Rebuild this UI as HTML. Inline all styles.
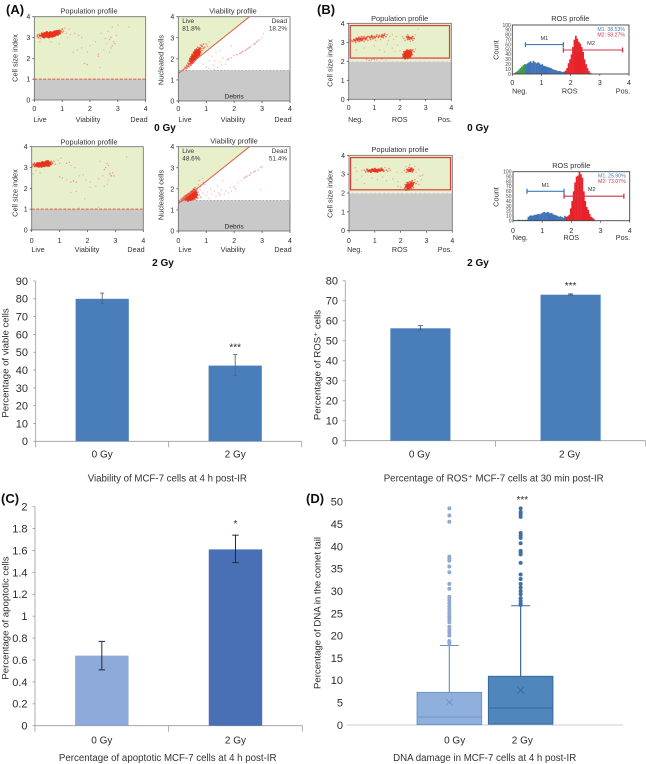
<!DOCTYPE html>
<html lang="en">
<head>
<meta charset="utf-8">
<title>MCF-7 post-IR figure</title>
<style>
html,body{margin:0;padding:0;background:#fff;width:646px;height:764px;overflow:hidden}
svg{display:block;font-family:"Liberation Sans",sans-serif}
</style>
</head>
<body>
<svg id="fig" xmlns="http://www.w3.org/2000/svg" width="646" height="764" viewBox="0 0 646 764">
<defs><filter id="soft" x="-2%" y="-2%" width="104%" height="104%"><feGaussianBlur stdDeviation="0.35"/></filter></defs>
<g id="root" filter="url(#soft)"></g>
</svg>
<script>
// ---------- scatter data ----------
const popA0=[[.1,3.05],[.12,3.12],[.15,3],[.18,3.15],[.2,3.08],[.22,2.95],[.25,3.1],[.27,3.2],[.3,3.05],[.3,3.15],[.32,3.1],[.35,3],[.35,3.12],[.37,3.2],[.4,3.05],[.4,3.12],[.42,3.18],[.43,3.08],[.45,3.15],[.45,3.25],[.47,3.05],[.48,3.12],[.5,3.1],[.5,3.18],[.52,3.02],[.53,3.14],[.55,3.2],[.55,3.08],[.57,3.15],[.58,3.25],[.6,3.1],[.6,3.18],[.62,3.12],[.63,3.22],[.65,3.05],[.65,3.16],[.67,3.2],[.68,3.1],[.7,3.15],[.7,3.25],[.72,3.18],[.73,3.28],[.75,3.12],[.75,3.2],[.77,3.25],[.78,3.15],[.8,3.2],[.8,3.3],[.82,3.22],[.85,3.15],[.85,3.3],[.88,3.25],[.9,3.35],[.92,3.2],[.95,3.3],[1,3.25],[1,3.4],[1.05,3.3],[1.1,3.45],[1.15,3.2],[1.3,3.15],[1.45,3.2],[1.6,3.1],[1.7,3],[1.55,2.4],[1.4,2.3],[1.7,2.5],[1.9,2.3],[1.8,1.75],[1.9,1.7],[2.3,2.2],[2.35,1.55],[2.3,2.1],[2.5,2.4],[2.6,2.7],[2.7,2.9],[2.75,3],[2.8,2.6],[2.85,2.8],[2.9,2.7],[2.75,2.5],[2.65,3.3],[2.8,3.5],[3,3.6],[3.4,3.5],[2.4,3.2],[2.2,2.8],[2,2.6],[.9,2.7],[.6,2.8],[.2,2.8],[2.55,2.95],[2.95,3.1],[2.7,2.3],[1.2,3],[1.25,3.4],
[.38,3.09],[.41,3.15],[.44,3.11],[.46,3.19],[.49,3.07],[.51,3.14],[.54,3.11],[.56,3.17],[.59,3.13],[.61,3.21],[.64,3.14],[.66,3.1],[.69,3.18],[.71,3.12],[.74,3.16],[.76,3.23],[.79,3.19],[.81,3.16],[.83,3.26],[.36,3.15],[.52,3.2],[.58,3.06],[.62,3.17],[.68,3.22],[.72,3.09],[.78,3.27],[.86,3.21],[.33,3.06],[.47,3.16],[.56,3.12]];
const vibA0=[[.2,1.5],[.25,1.6],[.3,1.55],[.3,1.7],[.35,1.65],[.35,1.8],[.4,1.6],[.4,1.75],[.4,1.9],[.42,2],[.45,1.7],[.45,1.85],[.45,2],[.48,2.1],[.5,1.8],[.5,1.95],[.5,2.05],[.5,2.2],[.53,1.9],[.55,2],[.55,2.15],[.55,2.3],[.58,2.05],[.6,1.95],[.6,2.1],[.6,2.25],[.6,2.4],[.63,2.2],[.65,2.05],[.65,2.3],[.65,2.45],[.68,2.15],[.7,2.25],[.7,2.4],[.7,2.55],[.73,2.3],[.75,2.2],[.75,2.45],[.78,2.35],[.8,2.5],[.8,2.65],[.85,2.4],[.85,2.6],[.9,2.5],[.9,2.7],[.95,2.55],[1,2.7],[1.05,2.6],[1.1,2.8],[.3,1.45],[.9,1.75],[1,1.6],[1.1,1.9],[1.1,1.55],[1.2,2.1],[1.25,1.7],[1.3,1.9],[1.35,2.3],[1.4,1.6],[1.5,1.85],[1.5,2.4],[1.55,1.7],[1.6,2.05],[1.7,1.75],[1.75,1.95],[1.8,2],[1.9,2.6],[1.9,2.05],[2,2.15],[2.1,2.2],[2.2,2.25],[2.25,2.3],[2.3,2.35],[2.4,2.4],[2.45,2.45],[2.5,2.5],[2.55,2.55],[2.6,2.6],[2.7,2.7],[2.75,2.72],[2.8,2.8],[2.85,2.85],[2.9,2.9],[3,3],[3.05,3.2],[1.3,1.5],
[.44,1.92],[.47,1.78],[.49,1.98],[.52,2.1],[.54,1.85],[.56,2.08],[.57,1.96],[.59,2.18],[.61,2.02],[.62,2.32],[.64,2.12],[.66,2.24],[.67,2.38],[.69,2.08],[.71,2.32],[.72,2.18],[.74,2.38],[.76,2.52],[.77,2.28],[.51,1.88],[.58,2.28],[.63,2.14],[.68,2.28],[.53,2.05]];
const popA2=[[.02,3.05],[.05,3.15],[.08,3.1],[.1,3.2],[.12,3.05],[.15,3.12],[.18,3.15],[.2,3.08],[.2,3.2],[.22,3.12],[.25,3.05],[.25,3.15],[.27,3.2],[.3,3.1],[.3,3.18],[.32,3.14],[.35,3.05],[.35,3.2],[.37,3.12],[.38,3.25],[.4,3.1],[.4,3.18],[.42,3.14],[.44,3.22],[.45,3.08],[.47,3.16],[.48,3.24],[.5,3.12],[.5,3.2],[.52,3.28],[.54,3.15],[.55,3.22],[.57,3.1],[.58,3.3],[.6,3.18],[.6,3.25],[.62,3.1],[.65,3.2],[.68,3.15],[.7,3.28],[.75,3.2],[.8,3.3],[.85,3.15],[.95,3.35],[1,3.2],[1.05,3.45],[.15,2.85],[.3,2.75],[.05,2.7],[1.25,3.2],[1.35,3.25],[1.4,3.1],[1.55,3],[1,2.55],[1.1,2.5],[1.25,2.4],[1.4,2.3],[1.5,2.35],[1.6,2.3],[1.7,2.6],[1.85,2.65],[1.95,2.4],[2.1,2.3],[2.3,2.1],[2.4,2.45],[2.45,3.3],[2.55,2.6],[2.6,2.9],[2.65,3],[2.7,3.2],[2.75,3.1],[2.8,2.7],[2.85,2.6],[2.9,2.75],[2.75,2.4],[2.95,2.6],[2.7,2.2],[3.4,3.5],[1.4,1.8],[1.6,1.85],[1.9,1.5],[1.7,1.05],[2.4,1.1],[2.1,2.05],[2.6,2.1],
[.24,3.11],[.28,3.14],[.31,3.12],[.33,3.17],[.36,3.1],[.39,3.15],[.41,3.21],[.43,3.11],[.46,3.13],[.49,3.17],[.51,3.23],[.53,3.11],[.56,3.18],[.59,3.14],[.61,3.21],[.63,3.16],[.34,3.14],[.44,3.17],[.52,3.16],[.57,3.24]];
const vibA2=[[.05,1.4],[.1,1.5],[.12,1.42],[.15,1.55],[.18,1.48],[.2,1.6],[.22,1.52],[.25,1.45],[.25,1.65],[.28,1.55],[.3,1.5],[.3,1.7],[.32,1.6],[.35,1.45],[.35,1.55],[.35,1.75],[.38,1.65],[.4,1.5],[.4,1.6],[.4,1.8],[.42,1.7],[.45,1.48],[.45,1.58],[.45,1.85],[.48,1.75],[.5,1.52],[.5,1.65],[.5,1.9],[.53,1.8],[.55,1.55],[.55,1.7],[.55,1.98],[.58,1.85],[.6,1.5],[.6,1.75],[.6,2.05],[.63,1.9],[.65,1.6],[.65,1.8],[.68,2],[.7,1.55],[.7,1.85],[.72,2.2],[.75,1.7],[.75,2.4],[.78,1.95],[.8,1.6],[.8,2.1],[.85,2.5],[.88,1.8],[.9,2.3],[.95,2.2],[1,1.7],[1.05,1.85],[1.1,1.55],[1.15,2],[1.2,1.75],[1.3,1.9],[1.35,1.65],[1.4,2.15],[1.45,1.8],[1.5,1.7],[1.55,1.95],[1.6,2.4],[1.65,1.75],[1.7,1.9],[1.8,1.8],[1.85,2.05],[1.9,1.9],[2,2.1],[2.05,2],[2.15,2.3],[2.25,2.4],[2.35,2.5],[2.4,2.55],[2.45,2.6],[2.55,2.65],[2.6,2.75],[2.7,2.8],[2.75,2.85],[2.85,2.9],[2.95,3],[3,3.05],[2.95,1.95],
[.33,1.57],[.37,1.62],[.41,1.55],[.43,1.66],[.46,1.63],[.47,1.72],[.49,1.58],[.52,1.7],[.53,1.62],[.56,1.76],[.57,1.6],[.59,1.68],[.61,1.82],[.62,1.65],[.64,1.72],[.38,1.52],[.43,1.5],[.52,1.85],[.58,1.95],[.67,1.72]];
const popB0=[[.05,3.05],[.1,3.1],[.15,3.05],[.2,3.15],[.25,3.1],[.28,3],[.3,3.2],[.35,3.1],[.4,3.25],[.42,3.05],[.45,3.15],[.5,3.3],[.5,3.1],[.55,3.2],[.6,3.05],[.6,3.3],[.65,3.15],[.7,3.25],[.75,3.1],[.8,3.3],[.85,3.15],[.9,3.35],[.95,3.2],[1,3.3],[1.05,3.1],[1.1,3.4],[1.15,3.25],[1.2,3.35],[1.25,3.15],[1.3,3.4],[1.35,3.25],[1.4,3.45],[1.45,3.3],[1.5,3.4],[1.55,3.1],[1.6,3.3],[1.7,3.4],[1.75,3.15],[1.85,3.3],[1.5,2.9],[1.7,2.7],[1.9,2.85],[.3,2.6],[.6,2.7],[1,2.8],[1.2,2.6],[1.4,2.5],[1.8,2.5],[2,2.55],[2.1,3.3],[2.15,3.2],[2.2,3.1],[2.25,3.3],[2.3,3.15],[2.3,3.4],[2.35,3.25],[2.4,3.05],[2.45,3.2],[2.5,3.1],[2.5,3.3],[2.55,3.2],[2.6,3.4],[2.7,3.7],[2.1,2.2],[2.12,2.35],[2.15,2.5],[2.15,2.25],[2.18,2.4],[2.2,2.15],[2.2,2.3],[2.22,2.5],[2.25,2.25],[2.25,2.4],[2.28,2.6],[2.3,2.3],[2.3,2.15],[2.3,2.45],[2.33,2.55],[2.35,2.35],[2.38,2.5],[2.4,2.25],[2.4,2.6],[2.42,2.4],[2.45,2.55],[2.48,2.35],[2.5,2.6],[2.55,2.5],[2.6,2.65],[.8,2.05],[.9,2.08],[1,2.1],[1.1,2.07],[1.3,2.1],[.7,2.1],[1.45,2.06],
[.22,3.1],[.33,3.14],[.38,3.18],[.47,3.2],[.53,3.13],[.62,3.22],[.68,3.18],[.73,3.3],[.83,3.24],[.88,3.28],[.93,3.28],[1.03,3.24],[1.08,3.32],[1.18,3.3],[1.28,3.3],[1.33,3.35],[1.38,3.36],[2.17,2.28],[2.21,2.4],[2.24,2.32],[2.27,2.42],[2.29,2.24],[2.31,2.38],[2.34,2.48],[2.36,2.25],[2.39,2.4],[2.41,2.32],[2.44,2.46],[2.26,2.52],[2.22,2.22],[2.37,3.18],[2.42,3.24],[2.47,3.28],[2.28,3.24],[2.32,3.3]];
const popB2=[[.25,3.35],[.3,3.15],[.5,3.2],[.6,3.2],[.65,3.12],[.7,3.25],[.75,3.15],[.8,3.2],[.85,3.12],[.9,3.25],[.95,3.18],[1,3.15],[1,3.28],[1.05,3.2],[1.1,3.12],[1.15,3.25],[1.2,3.18],[1.25,3.3],[1.3,3.2],[1.35,3.15],[1.4,3.35],[1.45,3.22],[1.5,3.15],[1.55,3.3],[1.6,3.2],[.3,2.7],[.5,2.9],[.6,2.5],[.9,2.8],[1.1,2.7],[1.3,2.85],[1.45,2.65],[1.7,2.75],[1.85,3.1],[1.9,2.6],[2.05,3.1],[2.15,3.2],[2.2,3.4],[2.22,3.1],[2.25,3.25],[2.3,3.15],[2.32,3.35],[2.35,3.5],[2.38,3.2],[2.4,3.3],[2.45,3.12],[2.5,3.25],[2.55,3.4],[2.6,3.1],[2.7,3.25],[2.15,2.25],[2.18,2.45],[2.2,2.15],[2.22,2.35],[2.25,2.55],[2.28,2.25],[2.3,2.45],[2.32,2.2],[2.35,2.6],[2.38,2.35],[2.4,2.5],[2.42,2.25],[2.45,2.65],[2.48,2.45],[2.5,2.3],[2.52,2.55],[2.55,2.7],[2.6,2.5],[2.65,2.6],[2.7,2.45],[2.75,2.9],[2.8,2.7],[2.85,2.95],[1.9,2.35],[2,2.3],
[.72,3.2],[.78,3.18],[.83,3.2],[.88,3.18],[.93,3.22],[.98,3.2],[1.03,3.16],[1.08,3.22],[1.13,3.18],[1.18,3.22],[1.23,3.2],[1.28,3.24],[1.33,3.2],[2.2,2.3],[2.24,2.42],[2.27,2.32],[2.29,2.52],[2.31,2.36],[2.34,2.42],[2.36,2.28],[2.39,2.44],[2.41,2.56],[2.44,2.38],[2.47,2.52],[2.26,2.2],[2.33,3.22],[2.36,3.16],[2.41,3.22],[2.44,3.3],[2.47,3.2],[2.28,3.2]];
// ---------- histogram data: counts per ROS bin ----------
const rosBins0=[1,2,4,6,9,12,15,18,20,20,22,24,26,23,27,24,22,24,22,19,20,17,16,15,14,13,12,10,9,8,7,6,6,5,4,5,7,12,22,30,40,55,70,78,72,66,62,55,45,30,20,12,6,2,1,0];
const rosBins2=[1,1,1,2,2,1,2,1,2,2,8,10,11,10,12,12,13,14,13,15,17,18,16,18,17,15,16,13,12,11,10,8,9,8,6,10,8,9,12,25,40,60,78,90,92,100,95,88,60,40,28,22,14,8,6,3];
const markers0=[[.45,1.75,60],[1.75,3.78,49]];
const markers2=[[.48,1.75,60],[1.75,3.8,50]];
// ---------- bar chart data ----------
const doseCats=['0 Gy','2 Gy'];
const viableVals=[80,42.5],viableLo=[77.5,37],viableHi=[83.2,48.7],viableSig=['','***'];
const viableTicks=[0,10,20,30,40,50,60,70,80,90];
const rosVals=[56.2,73],rosLo=[55.4,72.8],rosHi=[57.5,73.4],rosSig=['','***'];
const rosTicks=[0,10,20,30,40,50,60,70,80];
const apopVals=[.64,1.61],apopLo=[.51,1.49],apopHi=[.77,1.74],apopSig=['','*'];
const apopTicks=['0','0.2','0.4','0.6','0.8','1','1.2','1.4','1.6','1.8','2'];
// ---------- box plot data ----------
const dnaTicks=[0,5,10,15,20,25,30,35,40,45,50];
const dnaQ1=[.1,.2],dnaMedian=[1.8,3.8],dnaQ3=[7.3,10.9],dnaMean=[5.1,7.8],dnaWhisker=[17.8,26.7];
const dnaOutliers0=[48.5,46.9,45.5,37.7,37.2,36.8,35.5,34.2,31.6,30.5,28.7,28,27.3,26.6,26,25.4,24.8,24.2,23.6,23,22,21.3,20.7,20,18.8,18.3];
const dnaOutliers2=[48.5,47.7,47.2,46.6,43,42.4,41.9,40.7,39,38.6,38.2,36.3,33.7,32.7,31.6,30.8,30,29.3,28.4,27.8,27.2,26.9];
const scatterTicks=[0,1,2,3,4];

const NS='http://www.w3.org/2000/svg';
const root=document.getElementById('root');
function mk(parent,tag,attrs,name){
  const el=document.createElementNS(NS,tag);
  for(const k in attrs)el.setAttribute(k,attrs[k]);
  
  
  parent.appendChild(el);
  return el;
}
function group(name){return mk(root,'g',{},name);}
function txt(p,x,y,s,size,name,o){
  o=o||{};
  const a={x:x,y:y,'font-size':size,fill:o.fill||'#2b2b2b','text-anchor':o.anchor||'middle'};
  if(o.bold)a['font-weight']='bold';
  if(o.rot)a.transform='rotate(-90 '+x+' '+y+')';
  const t=mk(p,'text',a,name);
  t.textContent=s;
  return t;
}
function line(p,x1,y1,x2,y2,c,w,name,dash){
  const a={x1:x1,y1:y1,x2:x2,y2:y2,stroke:c,'stroke-width':w};
  if(dash)a['stroke-dasharray']=dash;
  return mk(p,'line',a,name);
}
function frameAxes(g,c,labels){
  const sx=v=>c.x0+v/4*(c.x1-c.x0), sy=v=>c.y1-v/4*(c.y1-c.y0);
  mk(g,'rect',{x:c.x0,y:c.y0,width:c.x1-c.x0,height:c.y1-c.y0,fill:'none',stroke:c.frame||'#6a6a6a','stroke-width':.8},'plot-frame');
  scatterTicks.forEach(t=>{
    line(g,sx(t),c.y1,sx(t),c.y1+2,'#444',.7,'x-tick');
    line(g,c.x0-2,sy(t),c.x0,sy(t),'#444',.7,'y-tick');
    txt(g,sx(t),c.tickY,String(t),7,'x-tick-label');
    txt(g,c.x0-4,sy(t)+2.5,String(t),7,'y-tick-label',{anchor:'end'});
  });
  txt(g,c.titleX,c.titleY,c.title,7.4,'panel-title',{fill:'#333'});
  labels.forEach(l=>txt(g,l[0],c.labelY,l[1],7.2,'x-axis-label',{fill:'#333'}));
  txt(g,c.yTitleX,c.yTitleY,c.yTitle,7.4,'y-axis-title',{rot:true,fill:'#333'});
  return {sx,sy};
}
// dot size and strength follow how many other cells sit close by, so dense clusters read as solid red
function dots(g,pts,sx,sy){
  pts.forEach(p=>{
    const px=sx(p[0]),py=sy(p[1]);
    let n=0;
    pts.forEach(q=>{const dx=sx(q[0])-px,dy=sy(q[1])-py;if(dx*dx+dy*dy<9)n++;});
    const r=Math.min(1.3,.62+n*.06),op=Math.min(.95,.26+n*.07);
    mk(g,'circle',{cx:px,cy:py,r:r,fill:'#e8331f','fill-opacity':op},'scatter-point');
  });
}
function popPanel(c,pts,thresh,box){
  const g=group(c.name);
  const sx=v=>c.x0+v/4*(c.x1-c.x0), sy=v=>c.y1-v/4*(c.y1-c.y0);
  mk(g,'rect',{x:c.x0,y:c.y0,width:c.x1-c.x0,height:sy(thresh)-c.y0,fill:'#e7efcb'},'viable-region');
  mk(g,'rect',{x:c.x0,y:sy(thresh),width:c.x1-c.x0,height:c.y1-sy(thresh),fill:'#c9c9c9'},'debris-region');
  line(g,c.x0,sy(thresh),c.x1,sy(thresh),box?'#f1f1f1':'#e4573b',box?.9:1,'gate-line','3 1.5');
  if(box)mk(g,'rect',{x:sx(.06),y:sy(3.88),width:sx(3.93)-sx(.06),height:sy(2.17)-sy(3.88),fill:'none',stroke:'#d8403c','stroke-width':1.2},'gate-box');
  dots(g,pts,sx,sy);
  frameAxes(g,c,c.labels);
}
function vibPanel(c,pts,live,dead){
  const g=group(c.name);
  const sx=v=>c.x0+v/4*(c.x1-c.x0), sy=v=>c.y1-v/4*(c.y1-c.y0);
  mk(g,'polygon',{points:[[0,1.3],[2.55,4],[0,4]].map(p=>sx(p[0])+','+sy(p[1])).join(' '),fill:'#e7efcb'},'live-region');
  mk(g,'rect',{x:c.x0,y:sy(1.45),width:c.x1-c.x0,height:c.y1-sy(1.45),fill:'#c9c9c9'},'debris-region');
  line(g,c.x0,sy(1.45),c.x1,sy(1.45),'#9a9a9a',.7,'debris-gate-line','2 1.5');
  dots(g,pts,sx,sy);
  line(g,sx(0),sy(1.3),sx(2.55),sy(4),'#d9624a',1,'live-dead-gate');
  txt(g,c.x0+4,c.y0+6.5,'Live',6.4,'live-label',{anchor:'start',fill:'#333'});
  txt(g,c.x0+4,c.y0+14,live,6.4,'live-percent',{anchor:'start',fill:'#333'});
  txt(g,c.x1-3,c.y0+6.5,'Dead',6.4,'dead-label',{anchor:'end',fill:'#333'});
  txt(g,c.x1-3,c.y0+14,dead,6.4,'dead-percent',{anchor:'end',fill:'#333'});
  txt(g,sx(2),c.y1-2.5,'Debris',6.6,'debris-label',{fill:'#222'});
  frameAxes(g,c,c.labels);
}
function histPanel(c,bins,marks,leg){
  const g=group(c.name);
  const sx=v=>c.x0+v/4*(c.x1-c.x0), sy=v=>c.y1-v/100*(c.y1-c.y0);
  const bw=.05;
  bins.forEach((v,i)=>{
    const xv=i*bw;
    const col=xv<.45?'#3f9a45':(xv<1.8?'#3f73b8':'#e8232a');
    mk(g,'rect',{x:sx(xv),y:sy(v),width:sx(bw)-sx(0)+.2,height:c.y1-sy(v),fill:col},'histogram-bin');
  });
  marks.forEach((m,i)=>{
    const col=i?'#d0344a':'#3f7db8';
    line(g,sx(m[0]),sy(m[2]),sx(m[1]),sy(m[2]),col,1.1,i?'m2-range':'m1-range');
    line(g,sx(m[0]),sy(m[2])-2.5,sx(m[0]),sy(m[2])+2.5,col,1.3,'range-cap');
    line(g,sx(m[1]),sy(m[2])-2.5,sx(m[1]),sy(m[2])+2.5,col,1.3,'range-cap');
    txt(g,i?sx(m[0]+.95):sx((m[0]+m[1])/2),sy(m[2])-(i?5:4.5),i?'M2':'M1',5.6,i?'m2-label':'m1-label',{fill:'#333'});
  });
  mk(g,'rect',{x:c.x0,y:c.y0,width:c.x1-c.x0,height:c.y1-c.y0,fill:'none',stroke:'#444','stroke-width':.9},'plot-frame');
  [0,10,20,30,40,50,60,70,80,90,100].forEach(t=>{
    txt(g,c.x0-1.5,sy(t)+1.8,String(t),5,'count-tick-label',{anchor:'end',fill:'#444'});
  });
  scatterTicks.forEach(t=>{
    line(g,sx(t),c.y1,sx(t),c.y1+2,'#444',.7,'x-tick');
    txt(g,sx(t),c.tickY,String(t),7,'x-tick-label');
  });
  txt(g,c.titleX,c.titleY,c.title,7.4,'panel-title',{fill:'#333'});
  c.labels.forEach(l=>txt(g,l[0],c.labelY,l[1],7.2,'x-axis-label',{fill:'#333'}));
  txt(g,c.yTitleX,c.yTitleY,'Count',7.4,'y-axis-title',{rot:true,fill:'#333'});
  txt(g,c.x1-4,c.y0+6,leg[0],5.2,'m1-percent',{anchor:'end',fill:'#3f7db8'});
  txt(g,c.x1-4,c.y0+11.5,leg[1],5.2,'m2-percent',{anchor:'end',fill:'#d0344a'});
}
function barChart(c){
  const g=group(c.name);
  const band=(c.x1-c.x0)/c.cats.length;
  const sy=v=>c.yBase-v/c.ymax*(c.yBase-c.yTop);
  line(g,c.x0,c.yTop,c.x0,c.yBase,'#9a9a9a',.8,'y-axis');
  line(g,c.x0,c.yBase,c.x1,c.yBase,'#9a9a9a',.8,'x-axis');
  c.ticks.forEach(t=>{
    const y=sy(parseFloat(t));
    line(g,c.x0-2.5,y,c.x0,y,'#9a9a9a',.8,'y-tick');
    txt(g,c.labelX,y+3.9,String(t),11,'y-tick-label',{anchor:'end'});
  });
  for(let i=0;i<=c.cats.length;i++)line(g,c.x0+i*band,c.yBase,c.x0+i*band,c.yBase+6,'#9a9a9a',.8,'x-tick');
  c.cats.forEach((cat,i)=>{
    const cx=c.x0+(i+.5)*band,w=band*.4;
    mk(g,'rect',{x:cx-w/2,y:sy(c.vals[i]),width:w,height:c.yBase-sy(c.vals[i]),fill:c.colors[i]},'bar-'+cat.replace(' ','-').toLowerCase());
    line(g,cx,sy(c.hi[i]),cx,sy(c.lo[i]),c.errColor,c.errW,'error-bar');
    line(g,cx-c.cap,sy(c.hi[i]),cx+c.cap,sy(c.hi[i]),c.errColor,c.errW,'error-cap-top');
    line(g,cx-c.cap,sy(c.lo[i]),cx+c.cap,sy(c.lo[i]),c.errColor,c.errW,'error-cap-bottom');
    if(c.sig[i])txt(g,cx,sy(c.hi[i])+c.sigDy,c.sig[i],10,'significance-marker');
    txt(g,cx+c.catDx,c.catY,cat,10,'category-label');
  });
  txt(g,c.capX,c.capY,c.caption,9.7,'chart-caption',{fill:'#333'});
  txt(g,c.yTitleX,c.yTitleY,c.yTitle,9.6,'y-axis-title',{rot:true});
}
function boxPlot(c){
  const g=group(c.name);
  const sy=v=>c.yBase-v/50*(c.yBase-c.yTop);
  line(g,c.x0,c.yBase,c.x1,c.yBase,'#c6cfdc',.9,'x-axis');
  dnaTicks.forEach(t=>txt(g,c.labelX,sy(t)+3.9,String(t),11,'y-tick-label',{anchor:'end'}));
  const mid=(c.x0+c.x1)/2;
  const fills=['#8fb0dc','#4f86bc'],strokes=['#6f93c4','#38689b'],outl=['#8fa9cf','#3d6fa5'];
  [dnaOutliers0,dnaOutliers2].forEach((outs,i)=>{
    const cx=mid+(i-.5)*71.3,w=64.5;
    line(g,cx,sy(dnaWhisker[i]),cx,sy(dnaQ3[i]),strokes[i],1.2,'whisker');
    line(g,cx-9.5,sy(dnaWhisker[i]),cx+9.5,sy(dnaWhisker[i]),strokes[i],1,'whisker-cap');
    mk(g,'rect',{x:cx-w/2,y:sy(dnaQ3[i]),width:w,height:sy(dnaQ1[i])-sy(dnaQ3[i]),fill:fills[i],stroke:strokes[i],'stroke-width':1},'box-'+i);
    line(g,cx-w/2,sy(dnaMedian[i]),cx+w/2,sy(dnaMedian[i]),strokes[i],1,'median-line');
    const mx=cx,my=sy(dnaMean[i]);
    line(g,mx-3.5,my-3.5,mx+3.5,my+3.5,strokes[i],.9,'mean-marker');
    line(g,mx-3.5,my+3.5,mx+3.5,my-3.5,strokes[i],.9,'mean-marker');
    outs.forEach(v=>mk(g,'circle',{cx:cx,cy:sy(v),r:2,fill:outl[i]},'outlier-point'));
    txt(g,cx+(i?1.7:5.3),c.catY,doseCats[i],10,'category-label');
  });
  txt(g,mid+(.5)*71.3+1.7,c.yTop+1.5,'***',10,'significance-marker');
  txt(g,c.capX,c.capY,c.caption,9.7,'chart-caption',{fill:'#333'});
  txt(g,c.yTitleX,c.yTitleY,c.yTitle,9.6,'y-axis-title',{rot:true});
}
// ---------- panel A ----------
popPanel({name:'population-profile-a-0gy',x0:34.3,x1:145.7,y0:16.7,y1:100,tickY:111,labelY:122,title:'Population profile',titleX:89,titleY:13.5,yTitle:'Cell size index',yTitleX:17.5,yTitleY:58,labels:[[40,'Live'],[88,'Viability'],[139,'Dead']]},popA0,1,false);
vibPanel({name:'viability-profile-a-0gy',x0:178.3,x1:290,y0:16.7,y1:101,tickY:111,labelY:122,title:'Viability profile',titleX:233,titleY:13.5,yTitle:'Nucleated cells',yTitleX:163.5,yTitleY:60,labels:[[185,'Live'],[233,'Viability'],[283,'Dead']]},vibA0,'81.8%','18.2%');
popPanel({name:'population-profile-a-2gy',x0:31.7,x1:143.3,y0:146.7,y1:230,tickY:243,labelY:252,title:'Population profile',titleX:89,titleY:144.5,yTitle:'Cell size index',yTitleX:17.5,yTitleY:193,labels:[[38,'Live'],[87,'Viability'],[136,'Dead']]},popA2,1,false);
vibPanel({name:'viability-profile-a-2gy',x0:178.3,x1:290,y0:146.7,y1:231,tickY:243,labelY:252,title:'Viability profile',titleX:234,titleY:143.5,yTitle:'Nucleated cells',yTitleX:163.5,yTitleY:195,labels:[[185,'Live'],[233,'Viability'],[283,'Dead']]},vibA2,'48.6%','51.4%');
// ---------- panel B ----------
popPanel({name:'population-profile-b-0gy',x0:348.7,x1:451.3,y0:23.3,y1:99.3,tickY:110,labelY:122,title:'Population profile',titleX:399.7,titleY:21,yTitle:'Cell size index',yTitleX:332.5,yTitleY:63,labels:[[355.7,'Neg.'],[399.7,'ROS'],[444.7,'Pos.']]},popB0,2,true);
histPanel({name:'ros-profile-0gy',x0:512.3,x1:629,y0:25,y1:74,tickY:85,labelY:93.5,title:'ROS profile',titleX:570.3,titleY:21,yTitleX:498.5,yTitleY:50,labels:[[519.7,'Neg.'],[569.7,'ROS'],[623,'Pos.']]},rosBins0,markers0,['M1: 38.53%','M2: 58.27%']);
popPanel({name:'population-profile-b-2gy',x0:349,x1:452.3,y0:155.3,y1:230.7,tickY:243,labelY:252,title:'Population profile',titleX:400,titleY:152,yTitle:'Cell size index',yTitleX:332.5,yTitleY:194,labels:[[354.7,'Neg.'],[399.7,'ROS'],[445,'Pos.']]},popB2,2,true);
histPanel({name:'ros-profile-2gy',x0:513,x1:629.7,y0:171.7,y1:220.7,tickY:233,labelY:240,title:'ROS profile',titleX:571.3,titleY:168,yTitleX:498.5,yTitleY:197,labels:[[520.3,'Neg.'],[571.3,'ROS'],[623,'Pos.']]},rosBins2,markers2,['M1: 25.90%','M2: 73.07%']);
// ---------- bars ----------
barChart({name:'viability-bar-chart',x0:35.7,x1:301.7,yTop:281,yBase:441.3,ymax:90,ticks:viableTicks,labelX:28,cats:doseCats,vals:viableVals,lo:viableLo,hi:viableHi,sig:viableSig,colors:['#4a7ebb','#4a7ebb'],errColor:'#4b6a8a',errW:.9,cap:2,sigDy:-4,catDx:0,catY:457.5,caption:'Viability of MCF-7 cells at 4 h post-IR',capX:167.3,capY:481.5,yTitle:'Percentage of viable cells',yTitleX:8.5,yTitleY:363});
barChart({name:'ros-bar-chart',x0:345.3,x1:645.7,yTop:280.7,yBase:440.7,ymax:80,ticks:rosTicks,labelX:338,cats:doseCats,vals:rosVals,lo:rosLo,hi:rosHi,sig:rosSig,colors:['#4a7ebb','#4a7ebb'],errColor:'#3b5f85',errW:.9,cap:2.5,sigDy:-5,catDx:-1,catY:457.5,caption:'Percentage of ROS\u207A MCF-7 cells at 30 min post-IR',capX:493.7,capY:481.5,yTitle:'Percentage of ROS\u207A cells',yTitleX:320.5,yTitleY:365});
barChart({name:'apoptosis-bar-chart',x0:35,x1:302.3,yTop:506.7,yBase:725.7,ymax:2,ticks:apopTicks,labelX:27.5,cats:doseCats,vals:apopVals,lo:apopLo,hi:apopHi,sig:apopSig,colors:['#8eaadb','#4a70b5'],errColor:'#1f2a3a',errW:1,cap:3.2,sigDy:-8,catDx:0,catY:743.5,caption:'Percentage of apoptotic MCF-7 cells at 4 h post-IR',capX:167.7,capY:761,yTitle:'Percentage of apoptotic cells',yTitleX:8.5,yTitleY:618});
boxPlot({name:'dna-damage-box-plot',x0:347,x1:623,yTop:501.7,yBase:725,labelX:343,catY:743.5,caption:'DNA damage in MCF-7 cells at 4 h post-IR',capX:484.7,capY:761,yTitle:'Percentage of DNA in the comet tail',yTitleX:320.5,yTitleY:613});
// ---------- panel letters and dose headers ----------
const hdr=group('figure-annotations');
txt(hdr,6,14,'(A)',13,'panel-label-a',{anchor:'start',bold:true,fill:'#111'});
txt(hdr,317,14,'(B)',13,'panel-label-b',{anchor:'start',bold:true,fill:'#111'});
txt(hdr,1,503,'(C)',13,'panel-label-c',{anchor:'start',bold:true,fill:'#111'});
txt(hdr,306,503,'(D)',13,'panel-label-d',{anchor:'start',bold:true,fill:'#111'});
txt(hdr,165,131,'0 Gy',10,'dose-header-a-0gy',{bold:true,fill:'#111'});
txt(hdr,478,131,'0 Gy',10,'dose-header-b-0gy',{bold:true,fill:'#111'});
txt(hdr,163,266,'2 Gy',10,'dose-header-a-2gy',{bold:true,fill:'#111'});
txt(hdr,478,266,'2 Gy',10,'dose-header-b-2gy',{bold:true,fill:'#111'});
</script>
</body>
</html>
